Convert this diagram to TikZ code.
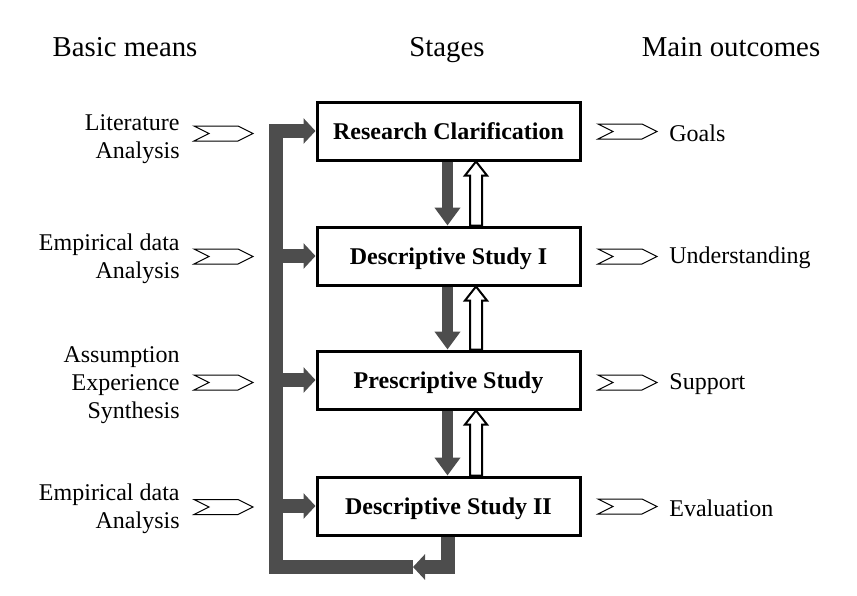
\documentclass[tikz,border=0pt]{standalone}
\usepackage{fontspec}
\setmainfont{Liberation Serif}
\usetikzlibrary{arrows.meta,calc}
\definecolor{feedGray}{RGB}{77,77,77}
\newcommand{\chevron}[2]{%%
  %% An open signpost: notch on the left, point on the right.
  \draw[chevronStyle] (#1,#2) ++(0,-7.5) -- ++(44,0) -- ++(15,7.5)
    -- ++(-15,7.5) -- ++(-44,0) -- ++(15,-7.5) -- cycle;
}
\newcommand{\downArrow}[2]{%%
  \draw[downStyle] ($(#1.south)+(-1,0)$) -- ($(#2.north)+(-1,0)$);
}
\newcommand{\upArrow}[2]{%%
  %% A hollow arrow from the lower box #1 up to the upper box #2.
  \draw[hollowStyle] ($(#1.north)+(21.5,0)$) -- ($(#2.south)+(21.5,14)$)
    -- ($(#2.south)+(16.5,14)$) -- ($(#2.south)+(27.5,0)$)
    -- ($(#2.south)+(38.5,14)$) -- ($(#2.south)+(33.5,14)$)
    -- ($(#1.north)+(33.5,0)$) -- cycle;
}

\begin{document}
\begin{tikzpicture}[%%
  x=0.5pt,y=-0.5pt,
  headStyle/.style={font=\fontsize{14.4}{17}\selectfont,inner sep=0pt,anchor=base},
  meansStyle/.style={font=\fontsize{12}{14}\selectfont,align=right,anchor=east,inner sep=0pt},
  outcomeStyle/.style={font=\fontsize{12}{14}\selectfont,anchor=west,inner sep=0pt},
  stageStyle/.style={draw,line width=1.5pt,minimum width=131.5pt,minimum height=29pt,
    font=\bfseries\fontsize{12}{14}\selectfont,inner sep=0pt,text height=8.6pt,text depth=0pt},
  chevronStyle/.style={draw,line width=0.5pt,line join=miter},
  downStyle/.style={feedGray,line width=5.8pt,-{Triangle[width=12.5pt,length=9pt]}},
  hollowStyle/.style={draw,fill=white,line width=1pt,line join=miter},
  feedStyle/.style={feedGray,line width=7pt,line join=miter},
  feedTip/.style={feedStyle,-{Triangle[width=12.5pt,length=6pt]}}
]
\useasboundingbox (0,0) rectangle (857,595);
%%
%% Column titles.
\node[headStyle] (meansHead) at (125,56) {Basic means};
\node[headStyle] (stagesHead) at (447,56) {Stages};
\node[headStyle] (outcomesHead) at (731,56) {Main outcomes};
%%
%% The four stages.
\node[stageStyle] (rc) at (448.5,131) {Research Clarification};
\node[stageStyle] (ds1) at (448.5,256) {Descriptive Study I};
\node[stageStyle] (ps) at (448.5,380) {Prescriptive Study};
\node[stageStyle] (ds2) at (448.5,506) {Descriptive Study II};
%%
%% Basic means.
\node[meansStyle] (meansA) at (180,139) {Literature\\Analysis};
\node[meansStyle] (meansB) at (180,259) {Empirical data\\Analysis};
\node[meansStyle] (meansC) at (180,385) {Assumption\\Experience\\Synthesis};
\node[meansStyle] (meansD) at (180,509) {Empirical data\\Analysis};
%%
%% Main outcomes.
\node[outcomeStyle] (goals) at (669,133) {Goals};
\node[outcomeStyle] (understanding) at (669,258) {Understanding};
\node[outcomeStyle] (support) at (669,384) {Support};
\node[outcomeStyle] (evaluation) at (669,508) {Evaluation};
%%
%% Signposts.
\chevron{194}{133.5}
\chevron{194}{256.5}
\chevron{194}{382.5}
\chevron{194}{507}
\chevron{598}{131.5}
\chevron{598}{256.5}
\chevron{598}{382.5}
\chevron{598}{506.5}
%%
%% Forward and backward steps between the stages.
\downArrow{rc}{ds1}
\downArrow{ds1}{ps}
\downArrow{ps}{ds2}
\upArrow{ds1}{rc}
\upArrow{ps}{ds1}
\upArrow{ds2}{ps}
%%
%% The feedback loop.
\coordinate (feedBar) at (275.5,567);
\coordinate (feedTurn) at (413,567);
\draw[feedTip] ($(ds2.south)+(-1,0)$) |- (feedTurn);
\draw[feedTip] (feedTurn) -| (feedBar |- rc.west) -- (rc.west);
\draw[feedTip] (feedBar |- ds1.west) -- (ds1.west);
\draw[feedTip] (feedBar |- ps.west) -- (ps.west);
\draw[feedTip] (feedBar |- ds2.west) -- (ds2.west);
\end{tikzpicture}
\end{document}
